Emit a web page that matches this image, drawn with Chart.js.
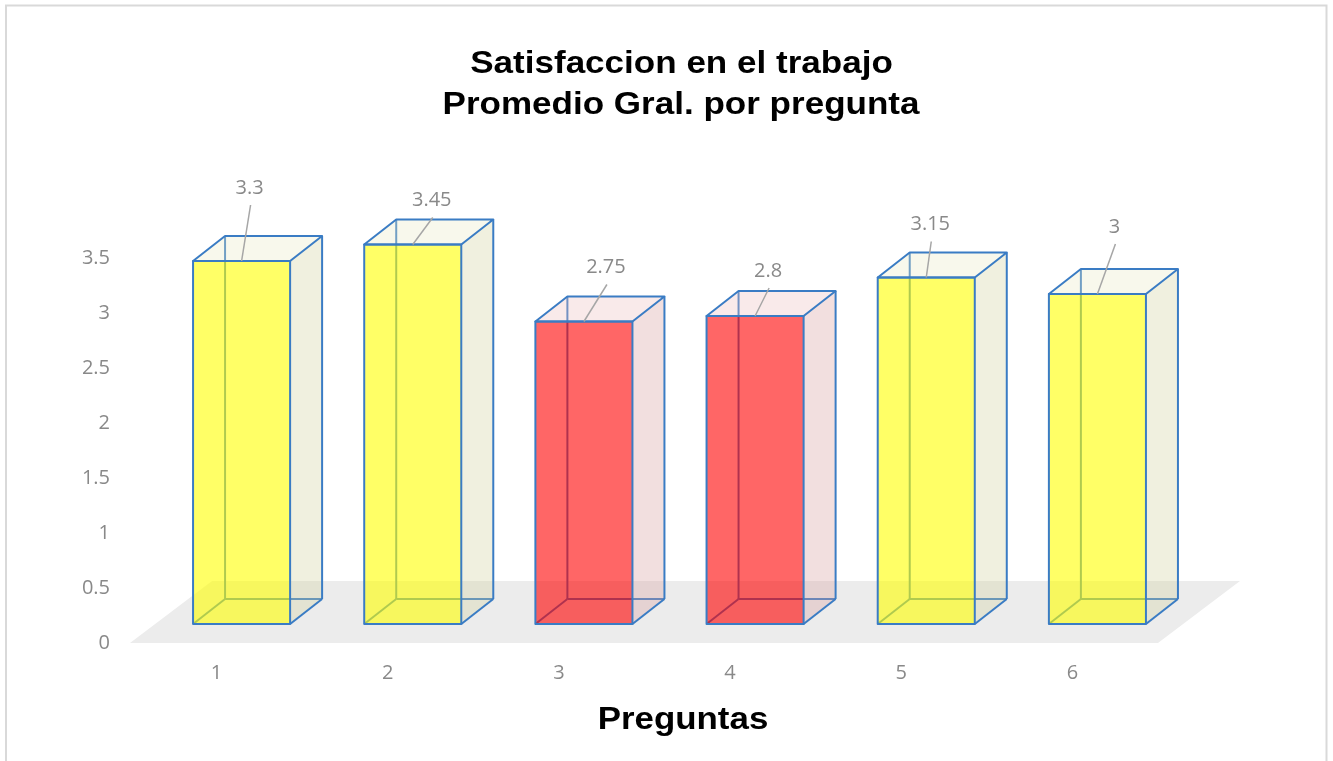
<!DOCTYPE html>
<html>
<head>
<meta charset="utf-8">
<title>Satisfaccion en el trabajo</title>
<script src="https://cdn.jsdelivr.net/npm/chart.js@4/dist/chart.umd.min.js"></script>
<style>
  html, body { margin: 0; padding: 0; background: #ffffff; }
  #c { display: block; }
</style>
</head>
<body>
<canvas id="c" width="1333" height="761"></canvas>
<script>
// ---- data ----
const preguntas = ['1', '2', '3', '4', '5', '6'];
const promedios = [3.3, 3.45, 2.75, 2.8, 3.15, 3];
const yTicks = [0, 0.5, 1, 1.5, 2, 2.5, 3, 3.5];
const titleLines = ['Satisfaccion en el trabajo', 'Promedio Gral. por pregunta'];
const xTitle = 'Preguntas';

// ---- styling ----
const umbral = 3;                       // below this the column is red
const labelNudge = [[8, -73], [19, -44], [22, -54], [13, -45], [4, -53], [17, -67]];
const FRONT_SHIFT = { dx: 25, dy: -19 }; // column front plane sits a bit into the floor
const DEPTH = { dx: 32, dy: -25 };       // column depth
const FLOOR_DEPTH = { dx: 82, dy: -62 };
const EDGE = '#3a7cc4';
const PAL = {
  yellow: { front: 'rgba(255,255,0,0.6)', side: 'rgba(208,208,155,0.32)', top: 'rgba(233,233,196,0.32)' },
  red:    { front: 'rgba(255,0,0,0.6)',   side: 'rgba(214,155,155,0.32)', top: 'rgba(236,190,190,0.32)' }
};
const GREY_TEXT = '#898989';

function poly(ctx, pts) {
  ctx.beginPath();
  ctx.moveTo(pts[0][0], pts[0][1]);
  for (let i = 1; i < pts.length; i++) ctx.lineTo(pts[i][0], pts[i][1]);
  ctx.closePath();
}
function seg(ctx, a, b) {
  ctx.beginPath(); ctx.moveTo(a[0], a[1]); ctx.lineTo(b[0], b[1]); ctx.stroke();
}
function stretchedText(ctx, text, cx, baseline, font, sx, color) {
  ctx.save();
  ctx.font = font; ctx.fillStyle = color;
  ctx.textAlign = 'center'; ctx.textBaseline = 'alphabetic';
  ctx.translate(cx, baseline); ctx.scale(sx, 1);
  ctx.fillText(text, 0, 0);
  ctx.restore();
}

const frame = {
  id: 'frame',
  beforeDraw(chart) {
    const ctx = chart.ctx;
    ctx.save();
    ctx.strokeStyle = '#d9d9d9'; ctx.lineWidth = 2;
    ctx.strokeRect(6, 5.5, 1320.5, 770);
    ctx.restore();
  },
  afterDraw(chart) {
    const ctx = chart.ctx;
    const font = 'bold 32px "Liberation Sans", Arial, sans-serif';
    stretchedText(ctx, titleLines[0], 681.5, 73, font, 1.095, '#000000');
    stretchedText(ctx, titleLines[1], 681, 114, font, 1.095, '#000000');
    stretchedText(ctx, xTitle, 683, 729, font, 1.09, '#000000');
  }
};

const floor3d = {
  id: 'floor3d',
  beforeDatasetsDraw(chart) {
    const ctx = chart.ctx, ca = chart.chartArea;
    const y0 = chart.scales.y.getPixelForValue(0);
    ctx.save();
    ctx.fillStyle = '#ececec';
    poly(ctx, [[ca.left - 1, y0], [ca.right, y0],
               [ca.right + FLOOR_DEPTH.dx, y0 + FLOOR_DEPTH.dy],
               [ca.left - 1 + FLOOR_DEPTH.dx, y0 + FLOOR_DEPTH.dy]]);
    ctx.fill();
    ctx.restore();
  }
};

const box3d = {
  id: 'box3d',
  afterDatasetsDraw(chart) {
    const ctx = chart.ctx;
    const meta = chart.getDatasetMeta(0);
    const y0 = chart.scales.y.getPixelForValue(0);
    ctx.save();
    ctx.lineJoin = 'round';
    meta.data.forEach((el, i) => {
      const v = promedios[i];
      const pal = v < umbral ? PAL.red : PAL.yellow;
      const cx = el.x + FRONT_SHIFT.dx;
      const w = el.width;
      const fx0 = cx - w / 2, fx1 = cx + w / 2;
      const ft = el.y + FRONT_SHIFT.dy, fb = y0 + FRONT_SHIFT.dy;
      const bx0 = fx0 + DEPTH.dx, bx1 = fx1 + DEPTH.dx;
      const bt = ft + DEPTH.dy, bb = fb + DEPTH.dy;

      // hidden edges, seen through the translucent faces
      ctx.strokeStyle = EDGE; ctx.lineWidth = 2;
      seg(ctx, [bx0, bt], [bx0, bb]);
      seg(ctx, [bx0, bb], [bx1, bb]);
      seg(ctx, [fx0, fb], [bx0, bb]);

      // faces
      ctx.fillStyle = pal.front;
      ctx.fillRect(fx0, ft, w, fb - ft);
      ctx.fillStyle = pal.side;
      poly(ctx, [[fx1, ft], [bx1, bt], [bx1, bb], [fx1, fb]]); ctx.fill();
      ctx.fillStyle = pal.top;
      poly(ctx, [[fx0, ft], [bx0, bt], [bx1, bt], [fx1, ft]]); ctx.fill();

      // visible edges
      ctx.strokeStyle = EDGE; ctx.lineWidth = 2;
      ctx.strokeRect(fx0, ft, w, fb - ft);
      poly(ctx, [[fx0, ft], [bx0, bt], [bx1, bt], [fx1, ft]]); ctx.stroke();
      seg(ctx, [bx1, bt], [bx1, bb]);
      seg(ctx, [fx1, fb], [bx1, bb]);

      // value label with leader line
      const lx = cx + labelNudge[i][0], ly = ft + labelNudge[i][1];
      ctx.strokeStyle = '#a6a6a6'; ctx.lineWidth = 1.5;
      seg(ctx, [lx + 1, ly + 17], [cx, ft]);
      ctx.fillStyle = GREY_TEXT;
      ctx.font = '20px "Open Sans", sans-serif';
      ctx.textAlign = 'center'; ctx.textBaseline = 'middle';
      ctx.fillText(String(v), lx, ly);
    });
    ctx.restore();
  }
};

Chart.defaults.font.family = '"Open Sans", sans-serif';

new Chart(document.getElementById('c'), {
  type: 'bar',
  data: {
    labels: preguntas,
    datasets: [{
      label: 'Promedio',
      data: promedios,
      backgroundColor: 'rgba(0,0,0,0)',
      borderWidth: 0,
      categoryPercentage: 1,
      barPercentage: 0.567
    }]
  },
  options: {
    responsive: false,
    animation: false,
    devicePixelRatio: 1,
    layout: { padding: { top: 258, right: 175, left: 0, bottom: 0 } },
    plugins: {
      legend: { display: false },
      title: { display: false },
      tooltip: { enabled: false }
    },
    scales: {
      x: {
        offset: true,
        grid: { display: false },
        border: { display: false },
        ticks: { color: GREY_TEXT, font: { size: 20 }, padding: 10 },
        afterFit(scale) { scale.height = 118; }
      },
      y: {
        min: 0,
        max: 3.5,
        grid: { display: false },
        border: { display: false },
        afterBuildTicks(scale) { scale.ticks = yTicks.map(v => ({ value: v })); },
        ticks: { color: GREY_TEXT, font: { size: 20 }, padding: 13, callback: v => String(v) },
        afterFit(scale) { scale.width = 131; }
      }
    }
  },
  plugins: [frame, floor3d, box3d]
});
</script>
</body>
</html>
